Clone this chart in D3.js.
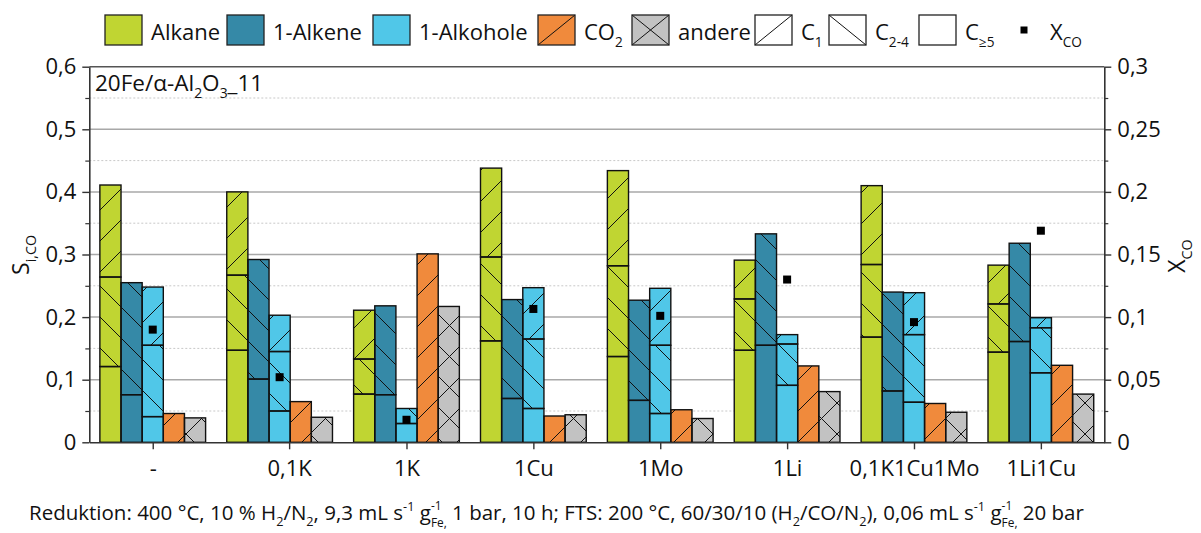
<!DOCTYPE html>
<html><head><meta charset="utf-8">
<script src="https://cdn.jsdelivr.net/npm/d3@7"></script>
<style>
body{margin:0;background:#fff}
svg{display:block}
text{font-family:"Open Sans","Noto Sans",sans-serif;fill:#111;white-space:pre}
</style>
</head><body>
<svg id="c" width="1201" height="533"></svg>
<script>
// ---------- data ----------
const categories = ["-", "0,1K", "1K", "1Cu", "1Mo", "1Li", "0,1K1Cu1Mo", "1Li1Cu"];
const tickPos    = [0, 1.075, 2, 3, 4, 5, 6, 7];   // label/tick position (group units)
const alkaneC5   = [0.121, 0.147, 0.077, 0.162, 0.137, 0.147, 0.168, 0.144];
const alkaneC24  = [0.143, 0.120, 0.056, 0.134, 0.145, 0.082, 0.116, 0.077];
const alkaneC1   = [0.147, 0.133, 0.078, 0.142, 0.152, 0.062, 0.126, 0.062];
const alkeneC5   = [0.076, 0.101, 0.076, 0.070, 0.067, 0.155, 0.082, 0.161];
const alkeneC24  = [0.179, 0.191, 0.142, 0.158, 0.160, 0.178, 0.158, 0.157];
const alkoholC5  = [0.041, 0.050, 0.030, 0.054, 0.046, 0.091, 0.064, 0.111];
const alkoholC24 = [0.114, 0.095, 0.024, 0.111, 0.109, 0.066, 0.108, 0.072];
const alkoholC1  = [0.093, 0.058, 0.000, 0.082, 0.091, 0.015, 0.067, 0.016];
const co2        = [0.046, 0.065, 0.301, 0.042, 0.052, 0.122, 0.062, 0.123];
const andere     = [0.039, 0.040, 0.217, 0.044, 0.038, 0.081, 0.048, 0.077];
const xco        = [0.090, 0.052, 0.018, 0.1065, 0.101, 0.130, 0.096, 0.169];
const leftTicks  = [0, 0.1, 0.2, 0.3, 0.4, 0.5, 0.6];
const leftMinor  = [0.05, 0.15, 0.25, 0.35, 0.45, 0.55];
const rightTicks = [0, 0.05, 0.1, 0.15, 0.2, 0.25, 0.3];
const rightMinor = [0.025, 0.075, 0.125, 0.175, 0.225, 0.275];

// ---------- layout ----------
const svg = d3.select("#c");
const L = 89.3, R = 1104.3, T = 66.7, B = 442.3;
const xs = d3.scaleLinear().domain([-0.5, 7.5]).range([L, R]);
const y  = d3.scaleLinear().domain([0, 0.6]).range([B, T]);
const y2 = d3.scaleLinear().domain([0, 0.3]).range([B, T]);
const loc = d3.formatLocale({decimal: ",", thousands: ".", grouping: [3], currency: ["", "€"]});
const fmt = loc.format("~g");

const colors = {alkane: "#C0D532", alkene: "#3589A7", alkohol: "#50C7E8", co2: "#F08A3C", andere: "#C2C2C2"};

// patterns
const defs = svg.append("defs");
const S = 31;
function pat(id, d) {
  const p = defs.append("pattern").attr("id", id).attr("patternUnits", "userSpaceOnUse")
    .attr("width", S).attr("height", S);
  p.append("path").attr("d", d).attr("stroke", "#111").attr("stroke-width", 1).attr("fill", "none");
}
const fwd = `M0,${S} L${S},0 M-1,1 L1,-1 M${S-1},${S+1} L${S+1},${S-1}`;
const back = `M0,0 L${S},${S} M-1,${S-1} L1,${S+1} M${S-1},-1 L${S+1},1`;
pat("hf", fwd); pat("hb", back); pat("hx", fwd + " " + back);

// rich text helper
function rich(parent, runs, x, yy, size, anchor) {
  const g = parent.append("g");
  let cx = 0;
  runs.forEach(r => {
    if (typeof r === "string") r = {t: r};
    if (r.stack) {
      const a = g.append("text").attr("x", cx).attr("y", -0.5 * size).attr("font-size", 0.58 * size).text(r.sup);
      const b = g.append("text").attr("x", cx).attr("y", 0.34 * size).attr("font-size", 0.58 * size).text(r.sub);
      cx += Math.max(a.node().getComputedTextLength(), b.node().getComputedTextLength());
    } else {
      const k = r.k || "n";
      const fs = k === "n" ? size : 0.62 * size;
      const dy = k === "sub" ? 0.3 * size : (k === "sup" ? -0.42 * size : 0);
      const t = g.append("text").attr("x", cx).attr("y", dy).attr("font-size", fs).text(r.t);
      cx += t.node().getComputedTextLength();
    }
  });
  const off = anchor === "middle" ? -cx / 2 : (anchor === "end" ? -cx : 0);
  g.attr("transform", `translate(${x + off},${yy})`);
  return g;
}

// ---------- grid ----------
const grid = svg.append("g");
grid.selectAll(".mi").data(leftMinor).join("line")
  .attr("x1", L).attr("x2", R).attr("y1", d => y(d)).attr("y2", d => y(d))
  .attr("stroke", "#c8c8c8").attr("stroke-width", 1).attr("stroke-dasharray", "2,2");
grid.selectAll(".ma").data(leftTicks.filter(d => d > 0)).join("line")
  .attr("x1", L).attr("x2", R).attr("y1", d => y(d)).attr("y2", d => y(d))
  .attr("stroke", d => d === 0.6 ? "#555" : "#a8a8a8").attr("stroke-width", 1.5);

// ---------- bars ----------
const series = [
  {c: colors.alkane,  segs: [[alkaneC5, null], [alkaneC24, "hb"], [alkaneC1, "hf"]]},
  {c: colors.alkene,  segs: [[alkeneC5, null], [alkeneC24, "hb"]]},
  {c: colors.alkohol, segs: [[alkoholC5, null], [alkoholC24, "hb"], [alkoholC1, "hf"]]},
  {c: colors.co2,     segs: [[co2, "hf"]]},
  {c: colors.andere,  segs: [[andere, "hx"]]}
];
const bw = xs(1 / 6) - xs(0);
const rects = [];
categories.forEach((cat, i) => {
  series.forEach((s, j) => {
    let base = 0;
    s.segs.forEach(([arr, h]) => {
      const v = arr[i];
      if (v > 0) rects.push({x: xs(i) + (j - 2.5) * bw, y0: base, y1: base + v, c: s.c, h});
      base += v;
    });
  });
});
const bars = svg.append("g");
bars.selectAll(".f").data(rects).join("rect")
  .attr("x", d => d.x).attr("width", bw).attr("y", d => y(d.y1)).attr("height", d => y(d.y0) - y(d.y1))
  .attr("fill", d => d.c);
bars.selectAll(".h").data(rects.filter(d => d.h)).join("rect")
  .attr("x", d => d.x).attr("width", bw).attr("y", d => y(d.y1)).attr("height", d => y(d.y0) - y(d.y1))
  .attr("fill", d => `url(#${d.h})`);
bars.selectAll(".o").data(rects).join("rect")
  .attr("x", d => d.x).attr("width", bw).attr("y", d => y(d.y1)).attr("height", d => y(d.y0) - y(d.y1))
  .attr("fill", "none").attr("stroke", "#111").attr("stroke-width", 1.4);

// XCO markers
svg.append("g").selectAll("rect").data(xco).join("rect")
  .attr("x", (d, i) => xs(i) - 4).attr("y", d => y2(d) - 4).attr("width", 8).attr("height", 8).attr("fill", "#000");

// ---------- axes ----------
function styleAxis(g) {
  g.selectAll(".domain").attr("stroke", "#333").attr("stroke-width", 1.6);
  g.selectAll(".tick line").attr("stroke", "#333").attr("stroke-width", 1.4);
  g.selectAll(".tick text").attr("font-size", 22).attr("fill", "#111")
    .attr("font-family", '"Open Sans","Noto Sans",sans-serif');
}
const ax = svg.append("g").attr("transform", `translate(0,${B})`)
  .call(d3.axisBottom(xs).tickValues(tickPos).tickFormat((d, i) => categories[i]).tickSize(7).tickSizeOuter(0).tickPadding(8));
styleAxis(ax);
ax.selectAll(".tick text").attr("dy", "0.85em");

const ayl = svg.append("g").attr("transform", `translate(${L},0)`)
  .call(d3.axisLeft(y).tickValues(leftTicks).tickFormat(fmt).tickSize(7).tickSizeOuter(0).tickPadding(6));
styleAxis(ayl);
svg.append("g").attr("transform", `translate(${L},0)`)
  .call(d3.axisLeft(y).tickValues(leftMinor).tickFormat("").tickSize(4).tickSizeOuter(0))
  .call(g => { g.select(".domain").remove(); g.selectAll("line").attr("stroke", "#333").attr("stroke-width", 1.2); });

const ayr = svg.append("g").attr("transform", `translate(${R},0)`)
  .call(d3.axisRight(y2).tickValues(rightTicks).tickFormat(fmt).tickSize(7).tickSizeOuter(0).tickPadding(6));
styleAxis(ayr);
svg.append("g").attr("transform", `translate(${R},0)`)
  .call(d3.axisRight(y2).tickValues(rightMinor).tickFormat("").tickSize(4).tickSizeOuter(0))
  .call(g => { g.select(".domain").remove(); g.selectAll("line").attr("stroke", "#333").attr("stroke-width", 1.2); });

// axis titles
const lt = svg.append("g").attr("transform", `translate(29,255) rotate(-90)`);
rich(lt, ["S", {t: "i,CO", k: "sub"}], 0, 0, 23, "middle");
const rt = svg.append("g").attr("transform", `translate(1185,256) rotate(-90)`);
rich(rt, ["X", {t: "CO", k: "sub"}], 0, 0, 23, "middle");

// sample label
rich(svg, ["20Fe/α-Al", {t: "2", k: "sub"}, "O", {t: "3", k: "sub"}, "_11"], 95, 91, 22.5, "start");

// ---------- legend ----------
const leg = svg.append("g");
const sw = 37, sh = 30, sy = 15, ty = 40;
const legItems = [
  {x: 105, c: colors.alkane, h: null, label: ["Alkane"]},
  {x: 227, c: colors.alkene, h: null, label: ["1-Alkene"]},
  {x: 373, c: colors.alkohol, h: null, label: ["1-Alkohole"]},
  {x: 538, c: colors.co2, h: "f", label: ["CO", {t: "2", k: "sub"}]},
  {x: 632, c: colors.andere, h: "x", label: ["andere"]},
  {x: 755, c: "#fff", h: "f", label: ["C", {t: "1", k: "sub"}]},
  {x: 829, c: "#fff", h: "b", label: ["C", {t: "2-4", k: "sub"}]},
  {x: 919, c: "#fff", h: null, label: ["C", {t: "≥5", k: "sub"}]}
];
legItems.forEach(it => {
  leg.append("rect").attr("x", it.x).attr("y", sy).attr("width", sw).attr("height", sh).attr("fill", it.c);
  if (it.h === "f" || it.h === "x")
    leg.append("line").attr("x1", it.x).attr("y1", sy + sh).attr("x2", it.x + sw).attr("y2", sy).attr("stroke", "#111").attr("stroke-width", 1);
  if (it.h === "b" || it.h === "x")
    leg.append("line").attr("x1", it.x).attr("y1", sy).attr("x2", it.x + sw).attr("y2", sy + sh).attr("stroke", "#111").attr("stroke-width", 1);
  leg.append("rect").attr("x", it.x).attr("y", sy).attr("width", sw).attr("height", sh)
    .attr("fill", "none").attr("stroke", "#222").attr("stroke-width", 1.3);
  rich(leg, it.label, it.x + sw + 9, ty, 22, "start");
});
leg.append("rect").attr("x", 1020.5).attr("y", 26.5).attr("width", 7).attr("height", 7).attr("fill", "#000");
rich(leg, ["X", {t: "CO", k: "sub"}], 1050, ty, 22, "start");

// ---------- footer ----------
rich(svg, [
  "Reduktion: 400 °C, 10 % H", {t: "2", k: "sub"}, "/N", {t: "2", k: "sub"}, ", 9,3 mL s", {t: "-1", k: "sup"},
  "\u00A0g", {stack: true, sup: "-1", sub: "Fe,"}, "\u00A01 bar, 10 h; FTS: 200 °C, 60/30/10 (H", {t: "2", k: "sub"},
  "/CO/N", {t: "2", k: "sub"}, "), 0,06 mL s", {t: "-1", k: "sup"}, "\u00A0g", {stack: true, sup: "-1", sub: "Fe,"}, "\u00A020 bar"
], 29, 520, 20.5, "start");
</script>
</body></html>
